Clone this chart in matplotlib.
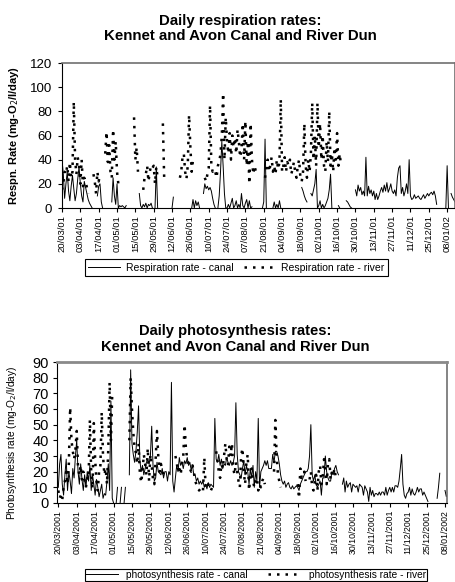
import numpy as np
import pandas as pd
import matplotlib
matplotlib.use("Agg")
import matplotlib.pyplot as plt
import matplotlib.dates as mdates

plt.rcParams["font.family"] = ["Liberation Sans", "DejaVu Sans"]

N = np.nan
START = "2001-03-20"

# daily values from 20/03/2001, one row = 14 days, N = no reading
resp_canal = [
    40, 28, 8, 20, 30, 14, 6, 18, 27, 16, 6, 12, 24, 34,
    20, 10, 5, 22, 17, 12, 7, 4, 2, 0, N, N, N, 10,
    18, 20, 5, 0, N, N, N, N, N, N, 5, 25, 10, 3,
    20, 0, 2, 1, 2, 1, 0, 2, N, N, N, N, N, N,
    N, N, N, 12, 2, 0, 3, 1, 4, 0, 3, 2, 4, 0,
    N, 0, 34, 0, N, N, N, N, N, N, N, N, N, N,
    0, 9, N, N, N, N, N, N, N, N, N, N, N, N,
    N, 0, 7, 0, 6, 2, 5, 0, N, N, 12, 20, 16, 18,
    15, 17, 14, 8, 3, 0, N, 0, 10, 30, 55, 35, 12, 0,
    0, 3, 0, 4, 8, 0, 2, 6, 0, 3, 0, 12, 2, 0,
    4, 7, 0, 6, 0, 1, N, N, N, N, N, N, N, 0,
    5, 57, 0, N, N, N, N, 0, 5, 0, 3, 0, 6, 0,
    N, N, N, N, N, N, N, N, N, N, N, N, N, N,
    N, 17, 14, 10, 7, 5, N, N, 12, 10, 15, 20, 32, 0,
    2, 6, 0, 3, 0, 2, 5, 8, 15, 28, 0, N, N, N,
    N, 2, 0, N, N, N, N, 6, 5, 3, 1, 0, N, N,
    15, 10, 19, 14, 17, 11, 14, 10, 42, 10, 18, 12, 15, 10,
    14, 7, 12, 7, 10, 14, 17, 13, 19, 14, 21, 13, 16, 20,
    14, 12, 15, 10, 25, 33, 35, 12, 17, 10, 14, 20, 12, 40,
    10, 7, 8, 11, 8, 9, 10, 8, 7, 9, 11, 8, 10, 12,
    10, 12, 13, 11, 14, 10, 3, N, N, N, N, N, N, 0,
    35, 0, N, 12, 9, 7, 5,
]

resp_river = [
    15, 20, 30, 28, 35, 22, 38, 25, 30, 88, 40, 28, 42, 35,
    20, 40, 18, 25, 22, 17, 12, N, N, N, 28, 22, 12, 30,
    22, 28, N, N, N, 45, 63, 38, 52, 30, 25, 65, 40, 55,
    30, 20, N, N, N, N, N, N, N, N, N, N, N, 75,
    40, 50, 30, N, N, N, 15, 25, 28, 35, 22, 30, 35, 33,
    35, 20, 34, 25, N, N, N, 70, 25, N, N, N, N, N,
    N, N, N, N, N, N, 25, 30, 42, 45, 30, 24, 35, 77,
    50, 30, 40, N, N, N, N, N, N, N, N, 25, 22, 28,
    33, 85, 35, 30, 32, 30, 25, 35, 38, 45, 60, 95, 40, 75,
    55, 45, 62, 40, 60, 50, 58, 45, 65, 55, 42, 48, 70, 40,
    72, 35, 55, 20, 70, 40, 28, 35, 30, 28, N, N, N, N,
    N, 25, 35, 40, 30, 35, 42, 30, 35, 28, 40, 32, 38, 90,
    30, 35, 42, 30, 38, 35, 40, 28, 32, 38, 30, 25, 35, 40,
    25, 22, 30, 70, 35, 25, 40, 30, 45, 87, 40, 60, 35, 87,
    50, 70, 40, 60, 35, 30, 55, 38, 80, 35, 45, 30, 50, 40,
    62, 35, 45, 35,
]

photo_canal = [
    10, 25, 31, 12, 5, 18, 28, 8, 20, 14, 6, 22, 16, 30,
    40, 20, 12, 25, 15, 8, 18, 10, 20, 14, 24, 8, 18, 12,
    5, 15, 10, 4, 8, 12, 3, 6, 5, 14, 25, 8, 65, 3,
    0, N, 0, 10, N, 0, 10, N, 0, 10, N, N, 18, 85,
    38, 31, 26, 33, 45, 62, 27, 20, 24, 18, 22, 26, 28, 25,
    30, 49, 24, 14, 16, 26, 20, 19, 18, 22, 16, 20, 20, 14,
    20, 18, 77, 14, 7, 16, 24, 20, 29, 24, 26, 22, 27, 25,
    29, 24, 26, 21, 24, 18, 18, 14, 16, 12, 14, 12, 14, 10,
    12, 9, 13, 10, 12, 11, 10, 54, 28, 26, 31, 24, 28, 22,
    25, 24, 29, 26, 24, 27, 24, 26, 30, 64, 31, 20, 18, 16,
    22, 27, 18, 24, 20, 12, 22, 16, 24, 10, 20, 14, 54, 10,
    20, 22, 24, 27, 24, 27, 22, 22, 22, 31, 26, 33, 33, 30,
    25, 18, 14, 12, 14, 10, 12, 13, 10, 9, 11, 9, 10, 11,
    10, 8, 12, 14, 16, 18, 20, 20, 22, 30, 50, 18, 14, 18,
    12, 10, 12, 14, 5, 16, 16, 30, 20, 16, 14, 14, 20, 18,
    22, 24, 20, 18, N, N, 12, 16, 7, 14, 10, 12, 13, 7,
    12, 11, 10, 11, 7, 12, 11, 10, 5, 11, 9, 7, 1, 10,
    5, 8, 4, 6, 6, 5, 7, 5, 7, 7, 5, 10, 5, 8,
    10, 7, 10, 7, 11, 11, 10, 14, 22, 31, 12, 5, 3, 6,
    7, 10, 5, 9, 6, 5, 7, 10, 7, 9, 9, 5, 7, 5,
    3, 1, N, N, N, N, N, N, 3, 10, 19, N, N, N,
    8, 4, 6,
]

photo_river = [
    8, 3, 5, 2, 10, 14, 20, 12, 25, 61, 40, 33, 28, 34,
    46, 22, 18, 24, 15, 20, 14, 10, 16, 15, 53, 20, 9, 51,
    28, 14, 8, 20, 24, 58, 30, 18, 22, 12, 35, 77, 40, 70,
    N, N, N, N, N, N, N, N, N, N, N, N, 40, 80,
    60, 45, 35, 32, 25, 38, 19, 13, 20, 31, 25, 18, 35, 14,
    31, 24, 15, 12, 28, 46, 30, 20, 25, 21, 18, 20, N, N,
    N, N, N, N, N, 30, 26, 20, 24, 18, 25, 30, 50, 35,
    28, 25, 22, 20, 24, 20, 14, 12, 10, 8, 9, 10, 8, 29,
    10, 9, 12, 10, 8, 10, N, N, 33, 27, 20, 16, 25, 22,
    30, 38, 28, 24, 36, 30, 38, 22, 18, 26, 20, 14, 10, 30,
    35, 20, 12, 26, 31, 8, 18, 22, 14, 10, 15, 16, 8, 12,
    10, 14, 16, 12, N, N, N, N, N, N, 20, 53, 30, 18,
    14, 10, N, N, N, N, N, N, N, N, N, N, N, N,
    12, 3, 22, 16, 18, 20, 14, N, N, 15, 20, 10, 8, 14,
    18, 8, 20, 24, 12, 16, 28, 20, 12, 25, 28, 15, 20, 18,
    22, 16,
]

tick_dates = pd.date_range(START, "2002-01-08", freq="14D")


def days(values):
    return pd.date_range(START, periods=len(values), freq="D")


def day(n):
    return pd.Timestamp(START) + pd.Timedelta(days=n)


DOTS = (0, (1.0, 2.4))

fig = plt.figure(figsize=(4.56, 5.82), dpi=100)


def style_axes(ax, fmt, xfs):
    ax.set_xticks(tick_dates)
    ax.xaxis.set_major_formatter(mdates.DateFormatter(fmt))
    ax.tick_params(axis="x", labelrotation=90, labelsize=xfs, length=3, pad=2)
    for s in ("left", "bottom"):
        ax.spines[s].set_color("black")
        ax.spines[s].set_linewidth(0.8)
    for s in ("top", "right"):
        ax.spines[s].set_color("#707070")
        ax.spines[s].set_linewidth(1.2)


# ---- respiration ----
ax1 = fig.add_axes([62 / 456, 1 - 208 / 582, 393 / 456, 145 / 582])
ax1.plot(days(resp_canal), resp_canal, color="black", lw=0.7,
         label="Respiration rate - canal")
ax1.plot(days(resp_river), resp_river, color="black", lw=1.8, ls=DOTS,
         dash_capstyle="butt", label="Respiration rate - river")
ax1.set_xlim(day(0), day(300))
ax1.set_ylim(0, 120)
ax1.set_yticks(range(0, 121, 20))
ax1.tick_params(axis="y", labelsize=9.5, length=3, pad=4)
style_axes(ax1, "%d/%m/%y", 6.8)
ax1.set_ylabel("Respn. Rate (mg-O$_2$/l/day)", fontsize=8, fontweight="bold")
ax1.yaxis.set_label_coords(-(62 - 21) / 393, 0.5)
ax1.legend(loc="upper center", bbox_to_anchor=(236.5 / 456, 1 - 259 / 582),
           bbox_transform=fig.transFigure, ncol=2, fontsize=7.5,
           frameon=True, fancybox=False, edgecolor="black", framealpha=1,
           handlelength=3.0, handletextpad=0.6, columnspacing=1.0,
           borderpad=0.35, borderaxespad=0).get_frame().set_linewidth(0.8)
fig.text(240 / 456, 1 - 28.5 / 582,
         "Daily respiration rates:\nKennet and Avon Canal and River Dun",
         ha="center", va="center", fontsize=10.8, fontweight="bold",
         linespacing=1.15)

# ---- photosynthesis ----
ax2 = fig.add_axes([57 / 456, 1 - 503 / 582, 390 / 456, 141 / 582])
ax2.plot(days(photo_canal), photo_canal, color="black", lw=0.7,
         label="photosynthesis rate - canal")
ax2.plot(days(photo_river), photo_river, color="black", lw=1.8, ls=DOTS,
         dash_capstyle="butt", label="photosynthesis rate - river")
ax2.set_xlim(day(-1), day(295.5))
ax2.set_ylim(0, 90)
ax2.set_yticks(range(0, 91, 10))
ax2.tick_params(axis="y", labelsize=10.5, length=3, pad=3)
style_axes(ax2, "%d/%m/%Y", 6.3)
ax2.spines["top"].set_linewidth(2.0)
ax2.spines["top"].set_color("#8a8a8a")
ax2.set_ylabel("Photosynthesis rate (mg-O$_2$/l/day)", fontsize=7.3)
ax2.yaxis.set_label_coords(-(57 - 19) / 390, 0.43)
ax2.legend(loc="upper center", bbox_to_anchor=(256 / 456, 1 - 569 / 582),
           bbox_transform=fig.transFigure, ncol=2, fontsize=7.3,
           frameon=True, fancybox=False, edgecolor="black", framealpha=1,
           handlelength=3.2, handletextpad=0.8, columnspacing=2.0,
           borderpad=0.1, borderaxespad=0).get_frame().set_linewidth(0.8)
fig.text(235 / 456, 1 - 339 / 582,
         "Daily photosynthesis rates:\nKennet and Avon Canal and River Dun",
         ha="center", va="center", fontsize=10.6, fontweight="bold",
         linespacing=1.15)

fig.savefig("out.png", dpi=100)
